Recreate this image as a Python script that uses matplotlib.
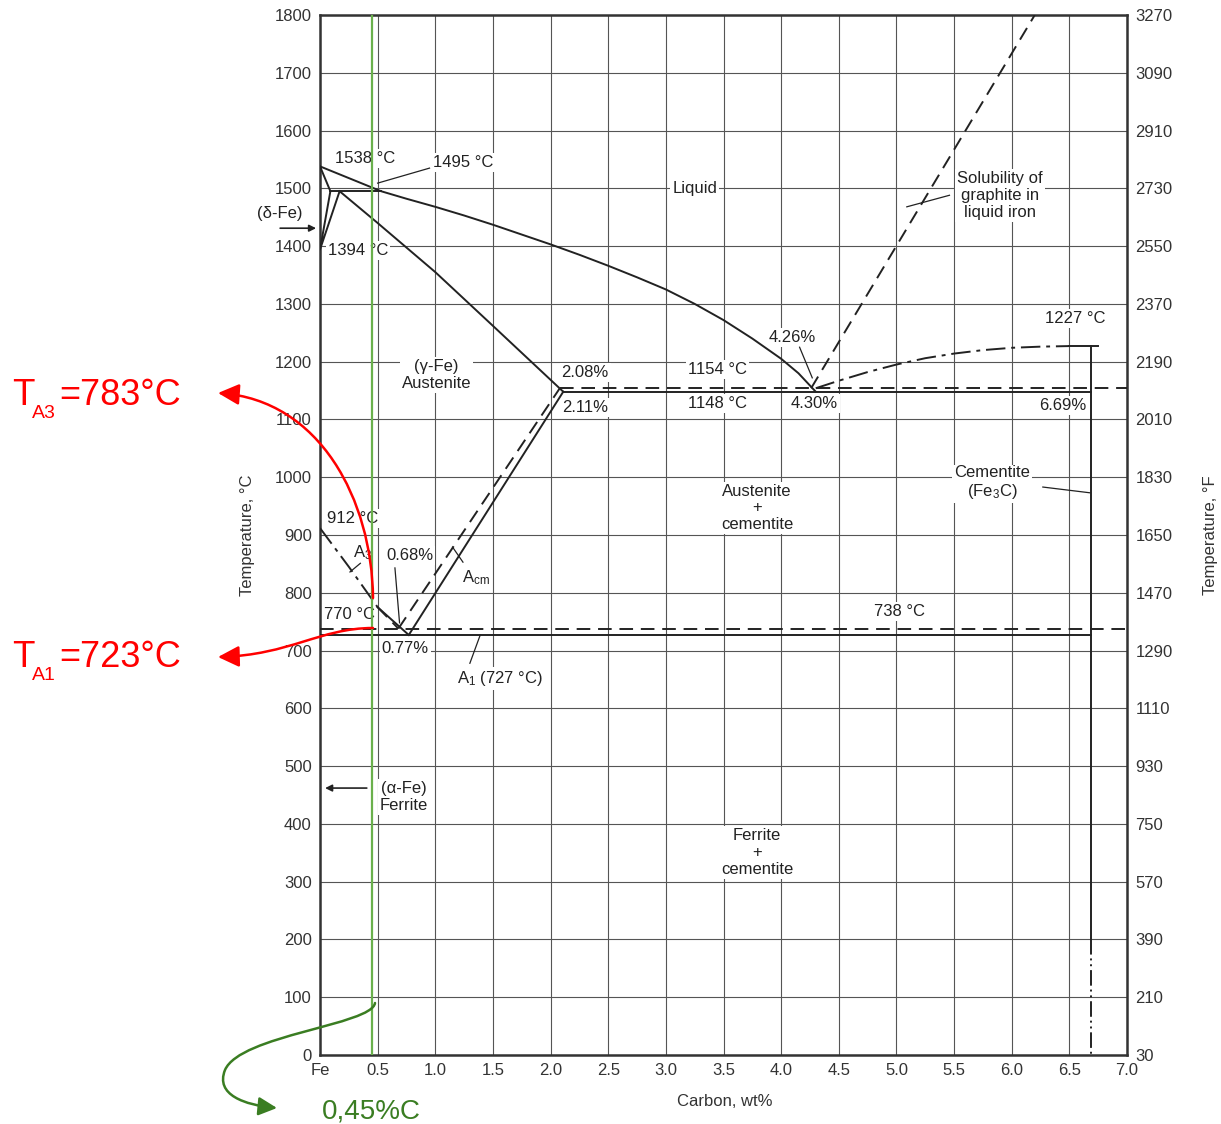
import matplotlib.pyplot as plt
from matplotlib.path import Path
from matplotlib.patches import FancyArrowPatch
from matplotlib.transforms import IdentityTransform

plt.rcParams['font.family'] = ['Liberation Sans', 'DejaVu Sans']
plt.rcParams['mathtext.fontset'] = 'custom'
plt.rcParams['mathtext.rm'] = 'Liberation Sans'
plt.rcParams['mathtext.it'] = 'Liberation Sans:italic'

# axis ticks
c_ticks = [0, 0.5, 1.0, 1.5, 2.0, 2.5, 3.0, 3.5, 4.0, 4.5, 5.0, 5.5, 6.0, 6.5, 7.0]
c_labels = ['Fe', '0.5', '1.0', '1.5', '2.0', '2.5', '3.0', '3.5', '4.0', '4.5',
            '5.0', '5.5', '6.0', '6.5', '7.0']
t_ticks = list(range(0, 1900, 100))
f_labels = ['30', '210', '390', '570', '750', '930', '1110', '1290', '1470', '1650',
            '1830', '2010', '2190', '2370', '2550', '2730', '2910', '3090', '3270']

# phase boundaries (wt% C, deg C)
liq_c = [0, 0.53, 0.75, 1.0, 1.25, 1.5, 1.75, 2.0, 2.25, 2.5, 2.75, 3.0, 3.25, 3.5,
         3.75, 4.0, 4.15, 4.30]
liq_t = [1538, 1495, 1482, 1468, 1453, 1437, 1420, 1403, 1385, 1366, 1346, 1325, 1300,
         1272, 1240, 1205, 1180, 1148]
sol_c = [0.17, 0.5, 1.0, 1.5, 2.11]
sol_t = [1495, 1440, 1355, 1262, 1148]
delta_c = [0, 0.09, 0, 0.17]
delta_t = [1538, 1495, 1394, 1495]
perit_c = [0.09, 0.53]
perit_t = [1495, 1495]
a3_c = [0, 0.25, 0.5]
a3_t = [912, 845, 775]
a3s_c = [0.5, 0.77]
a3s_t = [775, 727]
a3d_c = [0.5, 0.68]
a3d_t = [775, 738]
acm_c = [0.77, 2.11]
acm_t = [727, 1148]
acmd_c = [0.68, 2.08]
acmd_t = [738, 1154]
eutectoid_c = [0, 6.69]
eutectoid_t = [727, 727]
eutectoid_d_c = [0, 7.0]
eutectoid_d_t = [738, 738]
eutectic_c = [2.11, 6.69]
eutectic_t = [1148, 1148]
eutectic_d_c = [2.08, 7.0]
eutectic_d_t = [1154, 1154]
cem_liq_c = [4.30, 4.5, 4.75, 5.0, 5.25, 5.5, 5.75, 6.0, 6.25, 6.5]
cem_liq_t = [1154, 1167, 1182, 1195, 1206, 1214, 1220, 1224, 1226, 1227]
graphite_c = [4.26, 6.2]
graphite_t = [1154, 1800]
cem_top_c = [6.5, 6.75]
cem_top_t = [1227, 1227]
cem_c = [6.69, 6.69]
cem_t = [1227, 200]
cem_mag_c = [6.69, 6.69]
cem_mag_t = [200, 0]
steel_c = 0.45

ink = '#222222'
red = '#ff0000'

fig = plt.figure(figsize=(12.21, 11.24), dpi=100)
ax = fig.add_axes([320 / 1221, 1 - 1055 / 1124, (1127 - 320) / 1221, (1055 - 15) / 1124])
ax.set_xlim(0, 7.0)
ax.set_ylim(0, 1800)
ax.set_xticks(c_ticks)
ax.set_xticklabels(c_labels)
ax.set_yticks(t_ticks)
ax.tick_params(length=0, labelsize=12, labelcolor='#333333', pad=6)
ax.grid(True, color='#555555', linewidth=0.8)
ax.set_axisbelow(True)
for s in ax.spines.values():
    s.set_linewidth(1.8)
    s.set_color('#333333')

ax2 = ax.twinx()
ax2.set_ylim(0, 1800)
ax2.set_yticks(t_ticks)
ax2.set_yticklabels(f_labels)
ax2.tick_params(length=0, labelsize=12, labelcolor='#333333', pad=6)
for s in ax2.spines.values():
    s.set_visible(False)

lw = 1.4
solid = dict(color=ink, linewidth=lw, zorder=4)
dashed = dict(color=ink, linewidth=lw, linestyle=(0, (7, 4)), zorder=4)
dashdot = dict(color=ink, linewidth=lw, linestyle=(0, (10, 3, 2, 3)), zorder=4)

ax.plot(liq_c, liq_t, **solid)
ax.plot(sol_c, sol_t, **solid)
ax.plot(delta_c, delta_t, **solid)
ax.plot(perit_c, perit_t, **solid)
ax.plot(a3_c, a3_t, **dashdot)
ax.plot(a3s_c, a3s_t, **solid)
ax.plot(a3d_c, a3d_t, **dashed)
ax.plot(acm_c, acm_t, **solid)
ax.plot(acmd_c, acmd_t, **dashed)
ax.plot(eutectoid_c, eutectoid_t, **solid)
ax.plot(eutectoid_d_c, eutectoid_d_t, **dashed)
ax.plot(eutectic_c, eutectic_t, **solid)
ax.plot(eutectic_d_c, eutectic_d_t, **dashed)
ax.plot(cem_liq_c, cem_liq_t, **dashdot)
ax.plot(graphite_c, graphite_t, **dashed)
ax.plot(cem_top_c, cem_top_t, **solid)
ax.plot(cem_c, cem_t, **solid)
ax.plot(cem_mag_c, cem_mag_t, color=ink, linewidth=lw, linestyle=(0, (8, 2, 1, 2, 1, 2)), zorder=4)

box = dict(facecolor='white', edgecolor='none', pad=1.5)
labels = [
    (0.39, 1552, '1538 °C'), (1.24, 1544, '1495 °C'), (0.33, 1393, '1394 °C'),
    (3.25, 1500, 'Liquid'), (5.90, 1488, 'Solubility of\ngraphite in\nliquid iron'),
    (4.10, 1241, '4.26%'), (3.45, 1186, '1154 °C'), (2.30, 1182, '2.08%'),
    (2.30, 1121, '2.11%'), (3.45, 1127, '1148 °C'), (4.29, 1128, '4.30%'),
    (6.55, 1274, '1227 °C'), (6.44, 1125, '6.69%'), (1.01, 1177, '(γ-Fe)\nAustenite'),
    (3.79, 947, 'Austenite\n+\ncementite'), (5.83, 990, 'Cementite\n(Fe$_3$C)'),
    (0.28, 928, '912 °C'), (0.37, 870, 'A$_3$'), (0.78, 864, '0.68%'),
    (1.35, 826, 'A$_{\\rm cm}$'), (0.26, 763, '770 °C'), (5.03, 768, '738 °C'),
    (0.74, 704, '0.77%'), (1.56, 652, 'A$_1$ (727 °C)'), (0.73, 447, '(α-Fe)\nFerrite'),
    (3.79, 351, 'Ferrite\n+\ncementite'),
]
for x, y, s in labels:
    ax.text(x, y, s, ha='center', va='center', fontsize=12, color=ink,
            bbox=box, zorder=3, linespacing=1.15)
ax.text(-0.35, 1457, '(δ-Fe)', ha='center', va='center', fontsize=12, color=ink, clip_on=False)

# leader lines
leaders = [
    ([0.95, 0.50], [1535, 1509]), ([4.16, 4.27], [1225, 1172]),
    ([5.46, 5.09], [1488, 1468]), ([6.27, 6.68], [983, 973]),
    ([1.24, 1.15], [853, 879]), ([0.65, 0.69], [843, 748]),
    ([1.30, 1.39], [678, 727]), ([0.26, 0.35], [836, 851]),
]
for xs, ys in leaders:
    ax.plot(xs, ys, color=ink, linewidth=0.9, zorder=5)

ax.annotate('', xy=(-0.01, 1431), xytext=(-0.37, 1431),
            arrowprops=dict(arrowstyle='-|>', color=ink, lw=1.2, mutation_scale=10),
            annotation_clip=False)
ax.annotate('', xy=(0.02, 462), xytext=(0.43, 462),
            arrowprops=dict(arrowstyle='-|>', color=ink, lw=1.2, mutation_scale=10))

# axis titles
fig.text(248 / 1221, 1 - 535 / 1124, 'Temperature, °C', rotation=90, ha='center',
         va='center', fontsize=12, color='#333333')
fig.text(1210 / 1221, 1 - 535 / 1124, 'Temperature, °F', rotation=90, ha='center',
         va='center', fontsize=12, color='#333333')
fig.text(725 / 1221, 1 - 1102 / 1124, 'Carbon, wt%', ha='center', va='center',
         fontsize=12, color='#333333')

# 0.45 %C steel marker
ax.axvline(steel_c, color='#6ab04c', linewidth=1.6, zorder=6)


def px(x, y):
    return (x, 1124 - y)


def curve_arrow(points, color, scale):
    codes = [Path.MOVETO] + [Path.CURVE4] * (len(points) - 1)
    path = Path([px(*p) for p in points], codes)
    arr = FancyArrowPatch(path=path, arrowstyle='-|>', mutation_scale=scale,
                          color=color, linewidth=1.8, transform=IdentityTransform())
    fig.add_artist(arr)


curve_arrow([(373, 598), (372, 500), (320, 400), (218, 393)], red, 32)
curve_arrow([(373, 628), (320, 628), (290, 655), (218, 657)], red, 32)
curve_arrow([(375, 1003), (372, 1025), (240, 1035), (225, 1070),
             (215, 1095), (245, 1105), (277, 1108)], '#3a7d22', 28)

fig.text(12 / 1221, 1 - 405 / 1124, 'T', fontsize=26.5, color=red, va='baseline')
fig.text(32 / 1221, 1 - 418 / 1124, 'A3', fontsize=14, color=red, va='baseline')
fig.text(59 / 1221, 1 - 405 / 1124, '=783°C', fontsize=26, color=red, va='baseline')
fig.text(12 / 1221, 1 - 667 / 1124, 'T', fontsize=26.5, color=red, va='baseline')
fig.text(32 / 1221, 1 - 680 / 1124, 'A1', fontsize=14, color=red, va='baseline')
fig.text(59 / 1221, 1 - 667 / 1124, '=723°C', fontsize=26, color=red, va='baseline')
fig.text(322 / 1221, 1 - 1118 / 1124, '0,45%C', fontsize=20, color='#3a7d22', va='baseline')

fig.savefig('out.png', dpi=100)
